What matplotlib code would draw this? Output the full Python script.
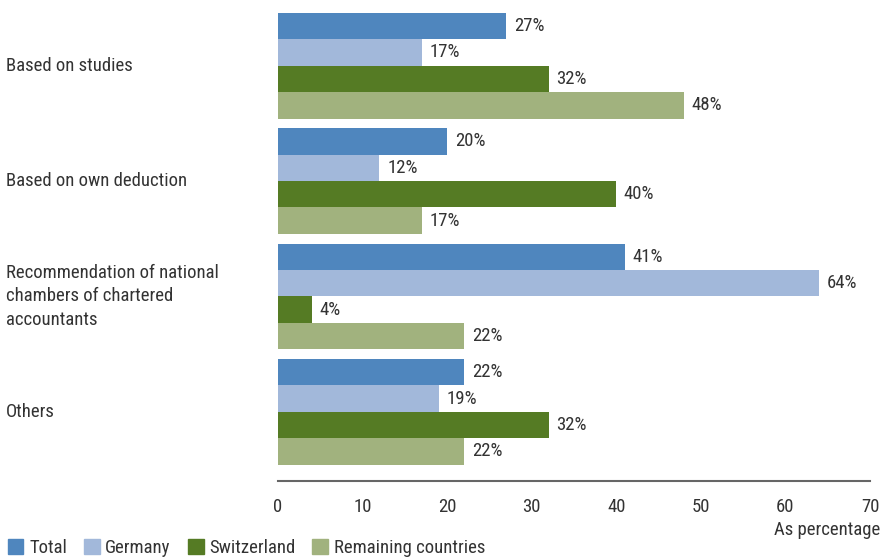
import matplotlib
matplotlib.use("Agg")
import matplotlib.pyplot as plt
import matplotlib.transforms as mtransforms
from matplotlib import font_manager
from matplotlib.patches import Patch
import numpy as np

# pick a narrow font if there is one
names = {f.name for f in font_manager.fontManager.ttflist}
family = [n for n in ["Liberation Sans Narrow", "Roboto Condensed", "Roboto", "DejaVu Sans"] if n in names]
plt.rcParams["font.family"] = family

categories = ["Based on studies", "Based on own deduction",
              "Recommendation of national\nchambers of chartered\naccountants", "Others"]
series = ["Total", "Germany", "Switzerland", "Remaining countries"]
total = [27, 20, 41, 22]
germany = [17, 12, 64, 19]
switzerland = [32, 40, 4, 32]
remaining = [48, 17, 22, 22]
x_ticks = [0, 10, 20, 30, 40, 50, 60, 70]

colors = ["#4F86BE", "#A2B8DA", "#557B24", "#A1B27E"]
text_color = "#333333"
fs = 13.5

fig = plt.figure(figsize=(8.82, 5.58), dpi=100)
ax = fig.add_axes([278 / 882, 1 - 481 / 558, (870 - 278) / 882, (481 - 8) / 558])

y = np.arange(len(categories))
h = 0.229
values = [total, germany, switzerland, remaining]
for k, (vals, c) in enumerate(zip(values, colors)):
    pos = y + (k - 1.5) * h
    ax.barh(pos, vals, height=h, color=c, label=series[k])
    for p, v in zip(pos, vals):
        ax.text(v + 0.9, p, f"{v}%", va="center", ha="left", fontsize=fs, color=text_color)

ax.set_xlim(0, 70)
ax.set_ylim(3.6, -0.5)
ax.set_xticks(x_ticks)
ax.set_xticklabels([str(t) for t in x_ticks])
ax.tick_params(axis="x", length=0, pad=12, labelsize=fs, colors=text_color)
ax.set_yticks([])
for s in ["top", "right", "left"]:
    ax.spines[s].set_visible(False)
ax.spines["bottom"].set_color("#666666")
ax.spines["bottom"].set_linewidth(1.5)

# category labels at the group centres, left-aligned at the figure edge
trans = mtransforms.blended_transform_factory(fig.transFigure, ax.transData)
for i, cat in enumerate(categories):
    fig.text(6 / 882, i, cat, transform=trans, fontsize=fs,
             color=text_color, va="center", ha="left", linespacing=1.4)

fig.text(880 / 882, 1 - 530 / 558, "As percentage", ha="right", va="center",
         fontsize=fs, color=text_color)

handles = [Patch(color=c) for c in colors]
fig.legend(handles, series, loc="lower left", bbox_to_anchor=(0.0, -0.012), ncol=4,
           frameon=False, fontsize=fs, handlelength=0.85, handleheight=0.85,
           handletextpad=0.3, columnspacing=0.9, borderaxespad=0.0, labelcolor=text_color)

fig.savefig("out.png", dpi=100)
